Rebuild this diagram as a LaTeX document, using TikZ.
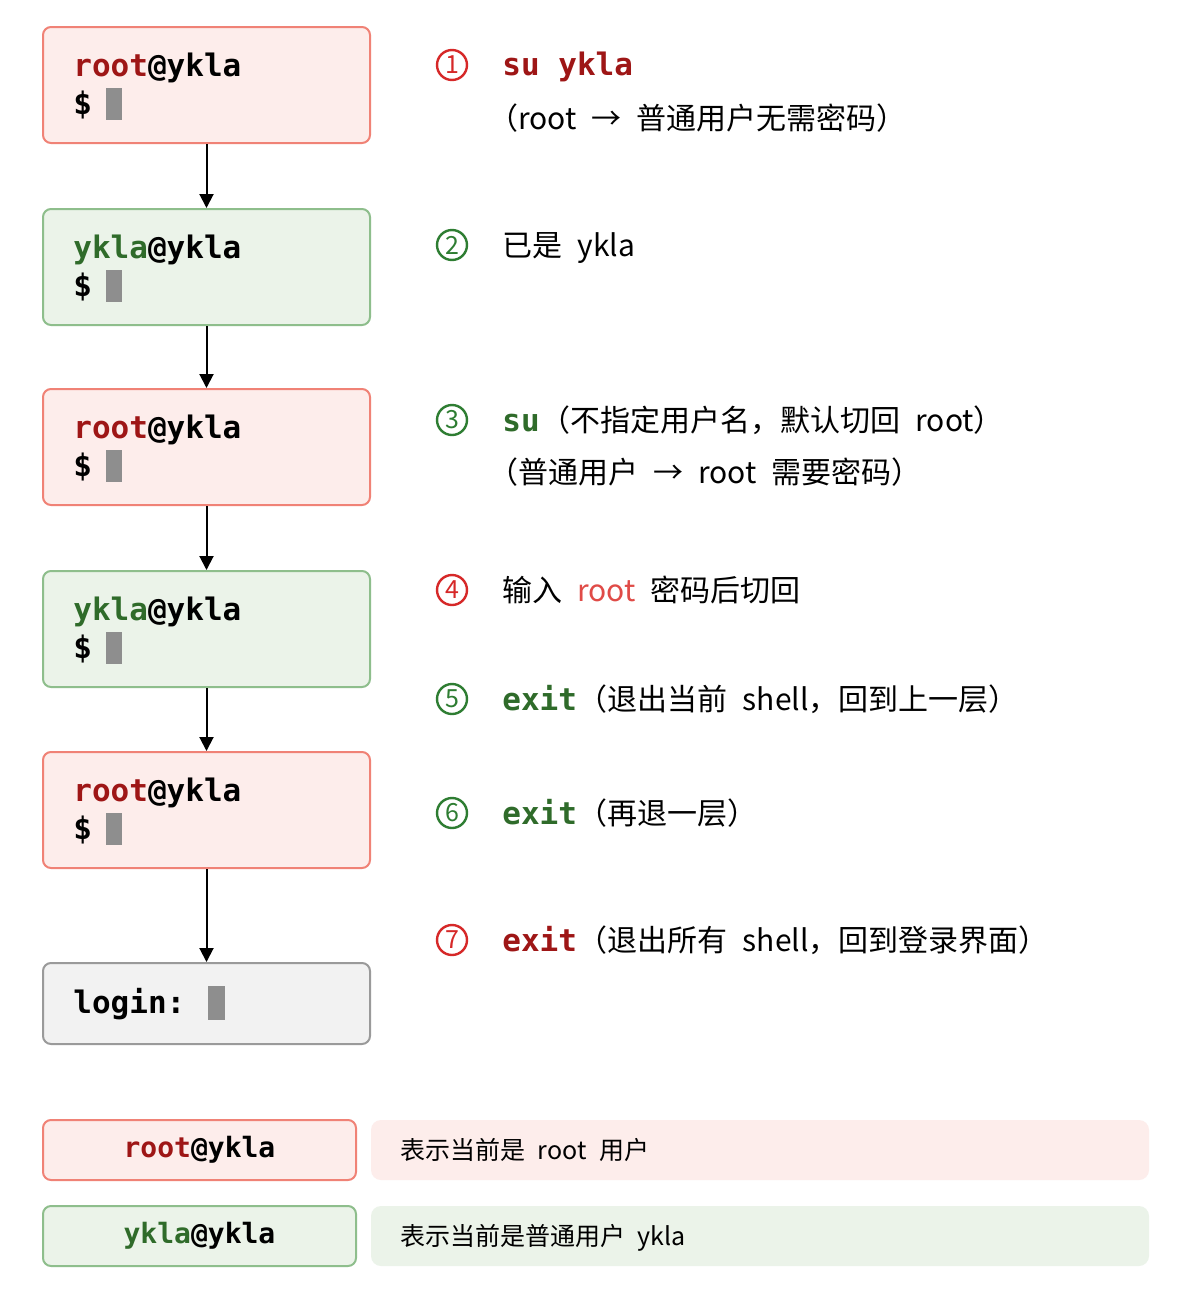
\documentclass[tikz,border=0pt]{standalone}
\usepackage{fontspec}
\setmainfont{Noto Sans CJK SC}
\setmonofont{DejaVu Sans Mono}
\usepackage{tikz}
\usetikzlibrary{arrows.meta, positioning}
\usepackage{xcolor}

\definecolor{rootred}{HTML}{9E1616}
\definecolor{userkgreen}{HTML}{2F6B2A}
\definecolor{numred}{HTML}{D62828}
\definecolor{numgreen}{HTML}{2E7D32}
\definecolor{softred}{HTML}{E04B47}
\definecolor{redline}{HTML}{F08276}
\definecolor{redfill}{HTML}{FDEDEB}
\definecolor{greenline}{HTML}{8EBE8C}
\definecolor{greenfill}{HTML}{EBF3E9}
\definecolor{grayline}{HTML}{9A9A9A}
\definecolor{grayfill}{HTML}{F2F2F2}
\definecolor{cursorgray}{HTML}{8E8E8E}

% wider gap between Chinese and Latin words
\newcommand{\wgap}{\hspace{0.5em}}

\tikzset{
  termbox/.style={line width=1pt, rounded corners=4pt, minimum width=163.5pt, minimum height=58pt, inner sep=0pt},
  rootterm/.style={termbox, draw=redline, fill=redfill},
  userterm/.style={termbox, draw=greenline, fill=greenfill},
  loginterm/.style={termbox, draw=grayline, fill=grayfill, minimum height=40.5pt},
  prompt/.style={font=\ttfamily\bfseries\fontsize{15.5}{18}\selectfont, anchor=base west, inner sep=0pt},
  note/.style={font=\fontsize{15}{18}\selectfont, anchor=base west, inner sep=0pt},
  stepno/.style={circle, draw, line width=1.2pt, minimum size=15pt, inner sep=0pt, font=\fontsize{12.5}{14}\selectfont},
  flow/.style={-{Triangle[length=7pt,width=7pt]}, line width=1pt},
  keybox/.style={line width=1pt, rounded corners=4pt, minimum width=156.5pt, minimum height=30pt, inner sep=0pt, font=\ttfamily\bfseries\fontsize{14}{16}\selectfont},
  keynote/.style={rounded corners=5pt, minimum width=389pt, minimum height=30pt, inner sep=0pt},
  keytext/.style={font=\fontsize{12.5}{15}\selectfont, anchor=base west, inner sep=0pt}
}

\begin{document}
\begin{tikzpicture}[x=0.5pt, y=-0.5pt]
\useasboundingbox (0,0) rectangle (1199,1312);
\fill[white] (0,0) rectangle (1199,1312);

% Terminal states
\node[rootterm] (t1) at (206.5,85) {};
\node[userterm] (t2) at (206.5,267) {};
\node[rootterm] (t3) at (206.5,447) {};
\node[userterm] (t4) at (206.5,629) {};
\node[rootterm] (t5) at (206.5,810) {};
\node[loginterm] (t6) at (206.5,1003.5) {};

% Prompts
\node[prompt] (p1) at (73,76) {\textcolor{rootred}{root}@ykla};
\node[prompt] (d1) at (73,114) {\$};
\node[prompt] (p2) at (73,258) {\textcolor{userkgreen}{ykla}@ykla};
\node[prompt] (d2) at (73,296) {\$};
\node[prompt] (p3) at (73,438) {\textcolor{rootred}{root}@ykla};
\node[prompt] (d3) at (73,476) {\$};
\node[prompt] (p4) at (73,620) {\textcolor{userkgreen}{ykla}@ykla};
\node[prompt] (d4) at (73,658) {\$};
\node[prompt] (p5) at (73,801) {\textcolor{rootred}{root}@ykla};
\node[prompt] (d5) at (73,839) {\$};
\node[prompt] (p6) at (73,1013) {login:};

% Cursors
\foreach \top in {88,270,450,632,813}
  \fill[cursorgray] (106,\top) rectangle (122,\top+32);
\fill[cursorgray] (208,986) rectangle (225,1020);

% Transitions
\draw[flow] (t1.south) -- (t2.north);
\draw[flow] (t2.south) -- (t3.north);
\draw[flow] (t3.south) -- (t4.north);
\draw[flow] (t4.south) -- (t5.north);
\draw[flow] (t5.south) -- (t6.north);

% Step 1
\node[stepno, numred] (s1) at (452,65) {1};
\node[prompt, rootred] (c1) at (502,75) {su ykla};
\node[note] (n1) at (488,129) {（root\wgap →\wgap 普通用户无需密码）};

% Step 2
\node[stepno, numgreen] (s2) at (452,245) {2};
\node[note] (n2) at (502,256) {已是\wgap ykla};

% Step 3
\node[stepno, numgreen] (s3) at (452,420) {3};
\node[prompt, userkgreen] (c3) at (502,431) {su};
\node[note] (n3) at (c3.base east) {（不指定用户名，默认切回\wgap root）};
\node[note] (m3) at (488,483) {（普通用户\wgap →\wgap root\wgap 需要密码）};

% Step 4
\node[stepno, numred] (s4) at (452,590) {4};
\node[note] (n4) at (502,601) {输入\wgap\textcolor{softred}{root}\wgap 密码后切回};

% Step 5
\node[stepno, numgreen] (s5) at (452,699) {5};
\node[prompt, userkgreen] (c5) at (502,710) {exit};
\node[note] (n5) at (c5.base east) {（退出当前\wgap shell，回到上一层）};

% Step 6
\node[stepno, numgreen] (s6) at (452,813) {6};
\node[prompt, userkgreen] (c6) at (502,824) {exit};
\node[note] (n6) at (c6.base east) {（再退一层）};

% Step 7
\node[stepno, numred] (s7) at (452,940) {7};
\node[prompt, rootred] (c7) at (502,951) {exit};
\node[note] (n7) at (c7.base east) {（退出所有\wgap shell，回到登录界面）};

% Legend
\node[keybox, draw=redline, fill=redfill] (k1) at (199.5,1150) {\textcolor{rootred}{root}@ykla};
\node[keynote, fill=redfill] (e1) at (760,1150) {};
\node[keytext] (x1) at (400,1159) {表示当前是\wgap root\wgap 用户};
\node[keybox, draw=greenline, fill=greenfill] (k2) at (199.5,1236) {\textcolor{userkgreen}{ykla}@ykla};
\node[keynote, fill=greenfill] (e2) at (760,1236) {};
\node[keytext] (x2) at (400,1245) {表示当前是普通用户\wgap ykla};

\end{tikzpicture}
\end{document}
